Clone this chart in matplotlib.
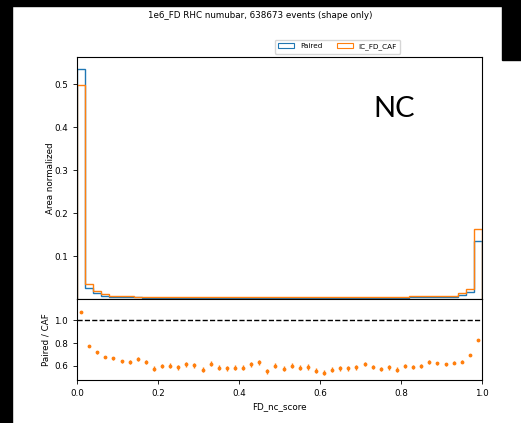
import numpy as np
import matplotlib
matplotlib.use("Agg")
import matplotlib.pyplot as plt
from matplotlib.patches import Patch, Rectangle

title = "1e6_FD RHC numubar, 638673 events (shape only)"
bin_edges = [round(0.02 * i, 2) for i in range(51)]

caf = [0.498, 0.034, 0.018, 0.012, 0.008,
       0.0068, 0.0060, 0.0055, 0.0050, 0.0048,
       0.0046, 0.0045, 0.0044, 0.0043, 0.0042, 0.0042, 0.0041, 0.0041, 0.0040, 0.0040,
       0.0040, 0.0040, 0.0040, 0.0040, 0.0040, 0.0040, 0.0040, 0.0041, 0.0041, 0.0041,
       0.0042, 0.0042, 0.0043, 0.0044, 0.0045, 0.0046, 0.0047, 0.0049, 0.0051, 0.0053,
       0.0056, 0.0059, 0.0062, 0.0066, 0.0070, 0.0074, 0.0078, 0.013, 0.023, 0.163]

paired = [0.535, 0.0264, 0.0129, 0.0081, 0.0053,
          0.0044, 0.0038, 0.0036, 0.0032, 0.0028,
          0.0028, 0.0027, 0.0026, 0.0026, 0.0025, 0.0024, 0.0025, 0.0024, 0.0023, 0.0023,
          0.0023, 0.0025, 0.0025, 0.0022, 0.0024, 0.0023, 0.0024, 0.0024, 0.0024, 0.0023,
          0.0023, 0.0024, 0.0025, 0.0026, 0.0026, 0.0028, 0.0028, 0.0028, 0.0030, 0.0030,
          0.0034, 0.0035, 0.0037, 0.0042, 0.0044, 0.0045, 0.0049, 0.0083, 0.0159, 0.135]

ratio = [1.072, 0.776, 0.718, 0.678, 0.666, 0.640, 0.635, 0.663, 0.637, 0.577,
         0.600, 0.603, 0.588, 0.614, 0.606, 0.568, 0.620, 0.586, 0.580, 0.583,
         0.583, 0.614, 0.632, 0.554, 0.603, 0.574, 0.603, 0.586, 0.591, 0.557,
         0.540, 0.568, 0.580, 0.580, 0.588, 0.617, 0.591, 0.574, 0.588, 0.568,
         0.603, 0.588, 0.603, 0.635, 0.623, 0.614, 0.629, 0.637, 0.692, 0.827]

ratio_err = [0.004, 0.008, 0.010, 0.011, 0.012, 0.014, 0.016, 0.017, 0.018, 0.019,
             0.020, 0.021, 0.021, 0.022, 0.022, 0.022, 0.022, 0.022, 0.022, 0.022,
             0.022, 0.022, 0.022, 0.022, 0.022, 0.022, 0.022, 0.022, 0.022, 0.022,
             0.022, 0.022, 0.022, 0.022, 0.021, 0.021, 0.021, 0.020, 0.020, 0.019,
             0.018, 0.018, 0.017, 0.016, 0.015, 0.014, 0.013, 0.011, 0.008, 0.004]

x_ticks = [0.0, 0.2, 0.4, 0.6, 0.8, 1.0]
main_yticks = [0.1, 0.2, 0.3, 0.4, 0.5]
ratio_yticks = [0.6, 0.8, 1.0]

W, H = 521, 423
fig = plt.figure(figsize=(W / 100, H / 100), dpi=100)
fig.patch.set_facecolor("white")
# dark border strips of the reference image
fig.patches.append(Rectangle((0, 0), 12 / W, 1, transform=fig.transFigure, color="black", zorder=-10))
fig.patches.append(Rectangle((0, 1 - 6 / H), 1, 6 / H, transform=fig.transFigure, color="black", zorder=-10))
fig.patches.append(Rectangle((502 / W, 1 - 60 / H), 19 / W, 60 / H, transform=fig.transFigure, color="black", zorder=-10))

fs = 6.3
left, right = 77 / W, 482 / W
ax = fig.add_axes([left, 1 - 299 / H, right - left, (299 - 57) / H])
axr = fig.add_axes([left, 1 - 380 / H, right - left, (380 - 299) / H], sharex=ax)

edges = np.array(bin_edges)
ax.stairs(paired, edges, color="C0", lw=1.0)
ax.stairs(caf, edges, color="C1", lw=1.0)
ax.set_xlim(0, 1)
ax.set_ylim(0, 0.5628)
ax.set_yticks(main_yticks)
ax.tick_params(axis="y", labelsize=fs, length=3, width=0.6)
ax.tick_params(axis="x", bottom=False, labelbottom=False)
ax.set_ylabel("Area normalized", fontsize=fs)
ax.yaxis.set_label_coords(-0.054, 0.5)
ax.text(0.782, 0.785, "NC", transform=ax.transAxes, fontsize=21, family="Lato",
        color="black", ha="center", va="center")

centers = (edges[:-1] + edges[1:]) / 2
axr.errorbar(centers, ratio, yerr=ratio_err, fmt=".", color="C1", ms=3.5, elinewidth=1.0)
axr.axhline(1.0, color="black", ls="--", lw=1.0)
axr.set_ylim(0.478, 1.183)
axr.set_yticks(ratio_yticks)
axr.set_xticks(x_ticks)
axr.tick_params(labelsize=fs, length=3, width=0.6)
axr.set_ylabel("Paired / CAF", fontsize=fs)
axr.yaxis.set_label_coords(-0.066, 0.5)
axr.set_xlabel("FD_nc_score", fontsize=fs, labelpad=3)

for a in (ax, axr):
    for s in a.spines.values():
        s.set_linewidth(0.8)

fig.text(0.5, 1 - 16 / H, title, ha="center", va="center", fontsize=fs)
handles = [Patch(facecolor="none", edgecolor="C0", lw=0.8), Patch(facecolor="none", edgecolor="C1", lw=0.8)]
fig.legend(handles, ["Paired", "IC_FD_CAF"], loc="upper left",
           bbox_to_anchor=(271 / W, 1 - 36 / H), ncol=2, fontsize=5.2,
           frameon=True, borderpad=0.5, handlelength=2.2, columnspacing=2.0)

fig.savefig("out.png", dpi=100)
